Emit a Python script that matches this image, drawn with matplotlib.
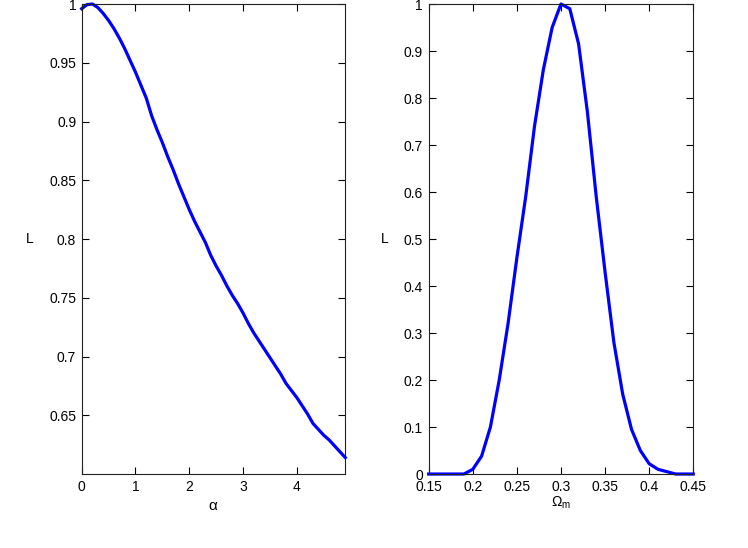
import numpy as np
import matplotlib
matplotlib.use('Agg')
import matplotlib.pyplot as plt
from matplotlib.ticker import FormatStrFormatter

plt.rcParams['font.family'] = ['Liberation Sans', 'DejaVu Sans']
plt.rcParams['font.size'] = 10
plt.rcParams['mathtext.default'] = 'regular'

# left panel: likelihood vs alpha
alpha = [0.0, 0.1, 0.2, 0.3, 0.4, 0.5, 0.6, 0.7, 0.8, 0.9,
         1.0, 1.1, 1.2, 1.3, 1.4, 1.5, 1.6, 1.7, 1.8, 1.9,
         2.0, 2.1, 2.2, 2.3, 2.4, 2.5, 2.6, 2.7, 2.8, 2.9,
         3.0, 3.1, 3.2, 3.3, 3.4, 3.5, 3.6, 3.7, 3.8, 3.9,
         4.0, 4.1, 4.2, 4.3, 4.4, 4.5, 4.6, 4.7, 4.8, 4.9]
L_alpha = [0.996, 0.9995, 1.000, 0.997, 0.992, 0.986, 0.979, 0.971, 0.962, 0.952,
           0.942, 0.931, 0.920, 0.905, 0.893, 0.882, 0.870, 0.859, 0.847, 0.836,
           0.825, 0.815, 0.806, 0.797, 0.786, 0.777, 0.769, 0.760, 0.752, 0.745,
           0.737, 0.728, 0.720, 0.713, 0.706, 0.699, 0.692, 0.685, 0.677, 0.671,
           0.665, 0.658, 0.651, 0.643, 0.638, 0.633, 0.629, 0.624, 0.619, 0.614]

# right panel: likelihood vs Omega_m
omega_m = [0.15, 0.16, 0.17, 0.18, 0.19, 0.20, 0.21, 0.22, 0.23, 0.24,
           0.25, 0.26, 0.27, 0.28, 0.29, 0.30, 0.31, 0.32, 0.33, 0.34,
           0.35, 0.36, 0.37, 0.38, 0.39, 0.40, 0.41, 0.42, 0.43, 0.44, 0.45]
L_omega = [0.0, 0.0, 0.0, 0.0, 0.0, 0.01, 0.038, 0.10, 0.20, 0.32,
           0.46, 0.59, 0.74, 0.86, 0.95, 1.0, 0.99, 0.915, 0.77, 0.59,
           0.43, 0.28, 0.17, 0.095, 0.05, 0.022, 0.01, 0.005, 0.0, 0.0, 0.0]

left_xticks = [0, 1, 2, 3, 4]
left_yticks = [0.65, 0.7, 0.75, 0.8, 0.85, 0.9, 0.95, 1.0]
right_xticks = [0.15, 0.2, 0.25, 0.3, 0.35, 0.4, 0.45]
right_yticks = [0, 0.1, 0.2, 0.3, 0.4, 0.5, 0.6, 0.7, 0.8, 0.9, 1.0]

fig = plt.figure(figsize=(7.48, 5.48), dpi=100)
ax1 = fig.add_axes([0.1092, 0.135, 0.3524, 0.8577])
ax2 = fig.add_axes([0.5731, 0.135, 0.3537, 0.8577])


def style(ax):
    ax.tick_params(direction='in', top=True, right=True, length=5, width=0.8,
                   labelsize=10, pad=4, colors='black')
    for s in ax.spines.values():
        s.set_linewidth(0.8)
        s.set_color('#222222')
    ax.xaxis.set_major_formatter(FormatStrFormatter('%g'))
    ax.yaxis.set_major_formatter(FormatStrFormatter('%g'))


ax1.plot(alpha, L_alpha, color='#0000ff', lw=2.3, clip_on=False)
ax1.set_xlim(0, 4.9)
ax1.set_ylim(0.6, 1.0)
ax1.set_xticks(left_xticks)
ax1.set_yticks(left_yticks)
style(ax1)
ax1.set_xlabel(r'$\alpha$', fontsize=11, labelpad=4)
ax1.set_ylabel('L', rotation=0, fontsize=10, labelpad=14, va='center')

ax2.plot(omega_m, L_omega, color='#0000ff', lw=2.3, clip_on=False)
ax2.set_xlim(0.15, 0.45)
ax2.set_ylim(0, 1)
ax2.set_xticks(right_xticks)
ax2.set_yticks(right_yticks)
style(ax2)
ax2.set_xlabel(r'$\Omega_m$', fontsize=10, labelpad=1)
ax2.set_ylabel('L', rotation=0, fontsize=10, labelpad=14, va='center')

fig.savefig('out.png', dpi=100)
